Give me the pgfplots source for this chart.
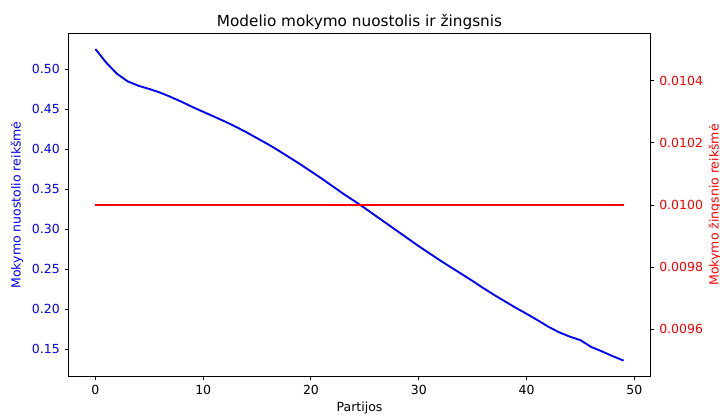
\documentclass[border=0pt]{standalone}
\usepackage{fontspec}
\setmainfont{DejaVu Sans}
\usepackage{pgfplots}
\pgfplotsset{compat=1.18}
\begin{document}
\begin{tikzpicture}
\useasboundingbox (-49.68pt,-27.36pt) rectangle (468.72pt,270.72pt);
\begin{axis}[
  at={(0,0)}, anchor=south west,
  scale only axis, width=418.32pt, height=246.24pt,
  xmin=-2.45, xmax=51.45, ymin=0.11625, ymax=0.54375,
  xtick={0,10,20,30,40,50},
  ytick={0.15,0.20,0.25,0.30,0.35,0.40,0.45,0.50},
  xtick pos=bottom, ytick pos=left,
  tick align=outside, major tick length=3.15pt,
  every tick/.style={black, line width=0.72pt},
  axis line style={line width=0.72pt},
  /pgf/number format/assume math mode=true,
  font=\fontsize{9}{11}\selectfont,
  yticklabel style={blue, /pgf/number format/.cd, fixed, fixed zerofill, precision=2},
  xticklabel style={black},
  scaled y ticks=false,
  xlabel={Partijos},
  xlabel style={at={(axis description cs:0.5,0)}, anchor=north, yshift=-15.5pt},
  ylabel={Mokymo nuostolio reikšmė},
  ylabel style={blue, at={(axis description cs:0,0.5)}, anchor=south, yshift=29.4pt},
  every axis title shift=0pt,
  title={Modelio mokymo nuostolis ir žingsnis},
  title style={font=\fontsize{11}{13}\selectfont, at={(axis description cs:0.5,1)}, anchor=base, yshift=5.3pt},
]
\addplot[blue, line width=1.35pt, no markers] coordinates {
(0,0.525) (1,0.508) (2,0.494) (3,0.4845) (4,0.479) (5,0.475) (6,0.4705) (7,0.465) (8,0.459) (9,0.4525)
(10,0.4465) (11,0.4405) (12,0.4345) (13,0.428) (14,0.421) (15,0.4135) (16,0.406) (17,0.398) (18,0.3895) (19,0.381)
(20,0.372) (21,0.363) (22,0.3535) (23,0.344) (24,0.3352) (25,0.326) (26,0.3165) (27,0.307) (28,0.2975) (29,0.288)
(30,0.2785) (31,0.2695) (32,0.2605) (33,0.252) (34,0.2435) (35,0.235) (36,0.226) (37,0.2175) (38,0.2095) (39,0.2015)
(40,0.194) (41,0.1862) (42,0.178) (43,0.171) (44,0.1655) (45,0.161) (46,0.1525) (47,0.147) (48,0.141) (49,0.1355)
};
\end{axis}
\begin{axis}[
  at={(0,0)}, anchor=south west,
  scale only axis, width=418.32pt, height=246.24pt,
  xmin=-2.45, xmax=51.45, ymin=0.00945, ymax=0.01055,
  axis x line=none, axis y line*=right,
  ytick={0.0096,0.0098,0.0100,0.0102,0.0104},
  tick align=outside, major tick length=3.15pt,
  every tick/.style={black, line width=0.72pt},
  axis line style={line width=0.72pt, -},
  /pgf/number format/assume math mode=true,
  font=\fontsize{9}{11}\selectfont,
  yticklabel style={red, /pgf/number format/.cd, fixed, fixed zerofill, precision=4},
  scaled y ticks=false,
  ylabel={Mokymo žingsnio reikšmė},
  ylabel style={red, at={(axis description cs:1,0.5)}, anchor=north, yshift=-38.7pt},
]
\addplot[red, line width=1.35pt, no markers] coordinates {
(0,0.0100) (49,0.0100)
};
\end{axis}
\end{tikzpicture}
\end{document}
